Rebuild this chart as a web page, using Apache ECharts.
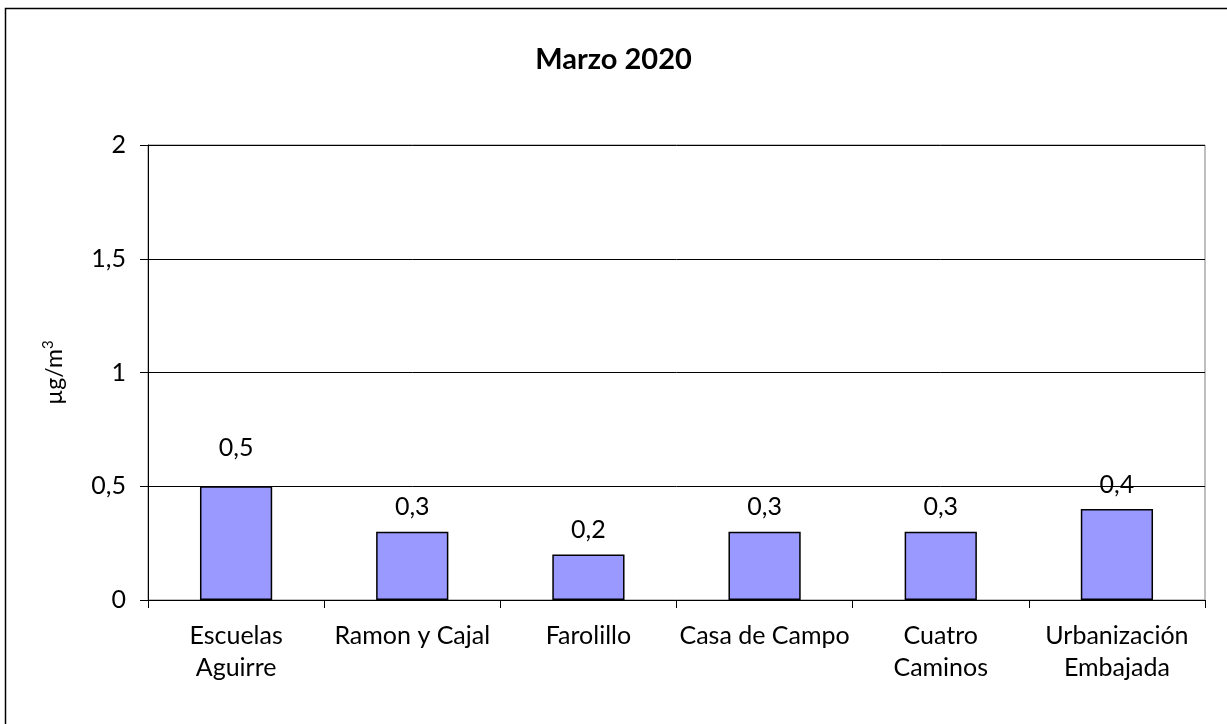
<!DOCTYPE html>
<html>
<head>
<meta charset="utf-8">
<script src="https://cdn.jsdelivr.net/npm/echarts@6/dist/echarts.min.js"></script>
<style>
    html, body { margin: 0; padding: 0; background: #fff; }
    #chart { width: 1227px; height: 724px; }
</style>
</head>
<body>
<div id="chart"></div>
<script>
    // estaciones y valores (µg/m3)
    var estaciones = ['Escuelas\nAguirre', 'Ramon y Cajal', 'Farolillo', 'Casa de Campo', 'Cuatro\nCaminos', 'Urbanización\nEmbajada']
    var valores = [0.5, 0.3, 0.2, 0.3, 0.3, 0.4]
    var yMin = 0
    var yMax = 2
    var yPaso = 0.5

    var fuente = 'Lato'
    var coma = function (v) { return String(v).replace('.', ',') }

    // la etiqueta que cae sobre una línea de la rejilla se sube un poco (como en el original)
    var datos = valores.map(function (v) {
        var enLinea = Math.abs(v / yPaso - Math.round(v / yPaso)) < 1e-9
        return { value: v, label: { distance: enLinea ? 26 : 12 } }
    })

    var dom = echarts.init(document.getElementById('chart'))
    var option = {
        animation: false,
        textStyle: { fontFamily: fuente },
        title: {
            text: 'Marzo 2020',
            left: 'center',
            top: 40,
            textStyle: { fontFamily: fuente, fontSize: 29, fontWeight: 'bold', color: '#000' }
        },
        graphic: [{
            type: 'rect',
            shape: { x: 5.5, y: 8.5, width: 1400, height: 900 },
            style: { fill: 'none', stroke: '#000', lineWidth: 1.5 },
            silent: true
        }],
        grid: {
            left: 148,
            right: 22,
            top: 145,
            bottom: 124,
            show: true,
            borderColor: '#808080',
            borderWidth: 1
        },
        xAxis: {
            type: 'category',
            data: estaciones,
            axisLine: { lineStyle: { color: '#000', width: 1 } },
            axisTick: { show: true, length: 8, lineStyle: { color: '#000' } },
            axisLabel: {
                color: '#000',
                fontSize: 25,
                lineHeight: 32,
                margin: 20,
                interval: 0
            }
        },
        yAxis: {
            type: 'value',
            min: yMin,
            max: yMax,
            interval: yPaso,
            name: '{a|µg/m}{b|3}',
            nameLocation: 'middle',
            nameGap: 80,
            nameRotate: 90,
            nameTextStyle: {
                color: '#000',
                fontFamily: fuente,
                rich: {
                    a: { fontSize: 23, color: '#000', fontFamily: fuente },
                    b: { fontSize: 15, color: '#000', fontFamily: fuente, padding: [0, 0, 12, 0] }
                }
            },
            axisLine: { show: true, lineStyle: { color: '#000', width: 1 } },
            axisTick: { show: true, length: 8, lineStyle: { color: '#000' } },
            axisLabel: {
                color: '#000',
                fontSize: 25,
                margin: 22,
                formatter: coma
            },
            splitLine: { show: true, lineStyle: { color: '#000', width: 1 } }
        },
        series: [{
            type: 'bar',
            data: datos,
            barWidth: '41%',
            itemStyle: { color: '#9999FF', borderColor: '#000', borderWidth: 1.5 },
            label: {
                show: true,
                position: 'top',
                color: '#000',
                fontSize: 25,
                fontFamily: fuente,
                formatter: function (p) { return coma(p.value) }
            }
        }]
    }
    dom.setOption(option)
</script>
</body>
</html>
